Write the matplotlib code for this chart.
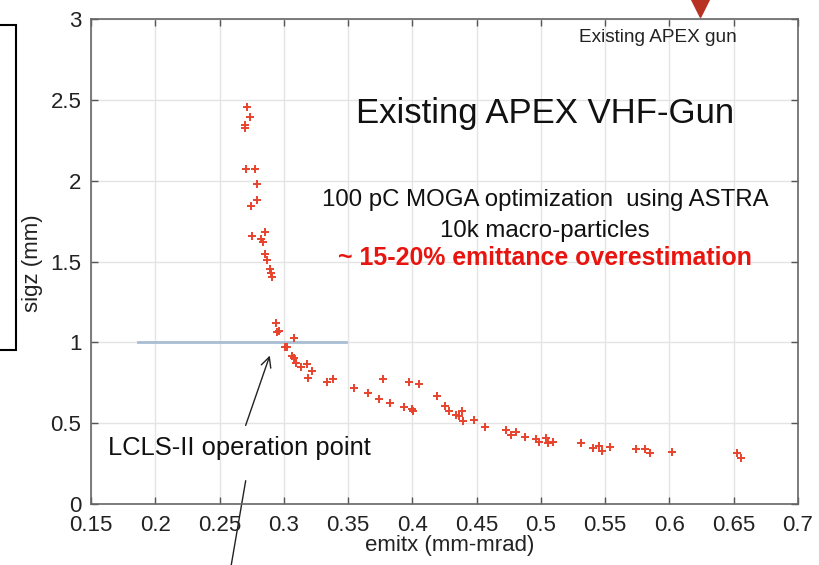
import matplotlib
matplotlib.use("Agg")
import matplotlib.pyplot as plt
from matplotlib.patches import Rectangle

#-----------------------------------------------------------------------------------------------------------------------
# data
emitx = [0.2714, 0.2734, 0.2696, 0.2701, 0.2703, 0.2773, 0.2791, 0.2791, 0.2748, 0.2853,
         0.2755, 0.2820, 0.2838, 0.2853, 0.2872, 0.2890, 0.2898, 0.2908, 0.2942, 0.2962,
         0.2950, 0.3078, 0.3006, 0.3024, 0.3066, 0.3076, 0.3092, 0.3136, 0.3179, 0.3221,
         0.3187, 0.3335, 0.3381, 0.3544, 0.3658, 0.3769, 0.3744, 0.3827, 0.3971, 0.4054,
         0.3938, 0.3998, 0.4008, 0.4189, 0.4254, 0.4287, 0.4339, 0.4365, 0.4386, 0.4391,
         0.4481, 0.4567, 0.4727, 0.4766, 0.4805, 0.4877, 0.4965, 0.5038, 0.5058, 0.5095,
         0.4986, 0.5310, 0.5405, 0.5452, 0.5473, 0.5535, 0.5741, 0.5809, 0.5845, 0.6021,
         0.6526, 0.6557]
sigz  = [2.460, 2.394, 2.346, 2.326, 2.074, 2.074, 1.979, 1.882, 1.846, 1.685,
         1.660, 1.638, 1.620, 1.547, 1.510, 1.452, 1.431, 1.403, 1.118, 1.072,
         1.066, 1.029, 0.973, 0.969, 0.915, 0.905, 0.874, 0.849, 0.866, 0.824,
         0.777, 0.756, 0.773, 0.719, 0.688, 0.773, 0.649, 0.622, 0.752, 0.740,
         0.601, 0.585, 0.576, 0.667, 0.605, 0.574, 0.550, 0.543, 0.574, 0.514,
         0.519, 0.473, 0.457, 0.426, 0.442, 0.411, 0.401, 0.405, 0.374, 0.384,
         0.384, 0.374, 0.347, 0.357, 0.328, 0.353, 0.337, 0.337, 0.316, 0.318,
         0.316, 0.281]

xticks = [0.15, 0.2, 0.25, 0.3, 0.35, 0.4, 0.45, 0.5, 0.55, 0.6, 0.65, 0.7]
yticks = [0, 0.5, 1, 1.5, 2, 2.5, 3]
op_line_x = [0.1865, 0.3487]
op_line_y = [1.0, 1.0]
apex_gun_x = 0.6241
apex_gun_y = 3.07

#-----------------------------------------------------------------------------------------------------------------------
plt.rcParams['font.family'] = ['Liberation Sans', 'DejaVu Sans']

fig = plt.figure(figsize=(8.19, 5.65), dpi=100)
ax = fig.add_axes([0.1111, 0.1085, 0.8633, 0.857])

ax.plot(op_line_x, op_line_y, color='#a9bdd3', lw=2, zorder=2)
ax.plot(emitx, sigz, ls='none', marker='+', ms=6, mew=1.4, color='#e8432c', zorder=3)

ax.set(xlim=(0.15, 0.7), ylim=(0, 3))
ax.set_xticks(xticks)
ax.set_xticklabels([f"{t:g}" for t in xticks])
ax.set_yticks(yticks)
ax.set_yticklabels([f"{t:g}" for t in yticks])
ax.tick_params(direction='in', top=True, right=True, length=5, width=1, color='#555555',
               labelsize=16, labelcolor='#222222')
ax.tick_params(axis='x', pad=8)
ax.tick_params(axis='y', pad=7)
ax.grid(True, color='#e4e4e4', lw=1)
ax.set_axisbelow(True)
for s in ax.spines.values():
    s.set_color('#666666')
    s.set_linewidth(1.2)

ax.set_xlabel("emitx (mm-mrad)", fontsize=16, color='#222222')
ax.set_ylabel("sigz (mm)", fontsize=16, color='#222222')
ax.xaxis.set_label_coords(0.508, -0.065)
ax.yaxis.set_label_coords(-0.068, 0.497)

ax.text(0.5033, 2.359, "Existing APEX VHF-Gun", fontsize=25, ha='center', va='baseline', color='#111111')
ax.text(0.5033, 1.844, "100 pC MOGA optimization  using ASTRA", fontsize=17.3, ha='center', va='baseline', color='#111111')
ax.text(0.5033, 1.654, "10k macro-particles", fontsize=17.3, ha='center', va='baseline', color='#111111')
ax.text(0.5033, 1.479, "~ 15-20% emittance overestimation", fontsize=17.9, fontweight='bold',
        ha='center', va='baseline', color='#e8140f')
ax.text(0.2657, 0.302, "LCLS-II operation point", fontsize=18.4, ha='center', va='baseline', color='#111111')
ax.text(0.591, 2.862, "Existing APEX gun", fontsize=13.7, ha='center', va='baseline', color='#222222')

# arrow to the operation point, plus the stray line below the text
ax.annotate("", xy=(0.2898, 0.934), xytext=(0.2696, 0.469),
            arrowprops=dict(arrowstyle='->', color='#222222', lw=1, mutation_scale=18))
ax.plot([0.2703, 0.2591], [0.141, -0.380], color='#222222', lw=1, clip_on=False)

# marker of the existing gun, cut by the top of the picture
ax.plot(apex_gun_x, apex_gun_y, marker='v', ms=13, color='#b83224', clip_on=False, zorder=4)

# box edge on the left of the slide
fig.patches.append(Rectangle((-0.01, 1 - 350 / 565), 0.01 + 16 / 819, 325 / 565, fill=False,
                             ec='black', lw=1.5, transform=fig.transFigure, figure=fig))

fig.savefig("out.png", dpi=100)
